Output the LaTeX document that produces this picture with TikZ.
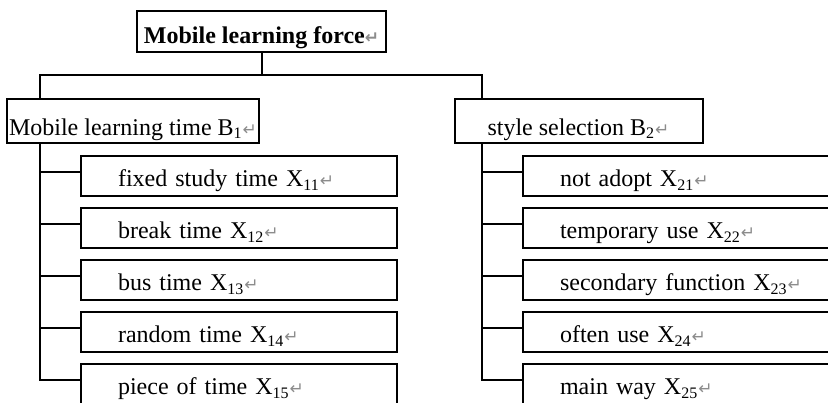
\documentclass[tikz,border=0pt]{standalone}
\usepackage{fontspec}
\setmainfont{Liberation Serif}
\newfontfamily\markfont{DejaVu Sans}
\usetikzlibrary{positioning}
\definecolor{MarkGray}{RGB}{140, 140, 140}
\newcommand{\parmark}{{\markfont\fontsize{8.5}{8.5}\selectfont\textcolor{MarkGray}{↵}}}

\begin{document}
\begin{tikzpicture}[
    font=\fontsize{12}{14}\selectfont,
    node distance=6pt,
    goal/.style={rectangle, draw, line width=1pt, outer sep=0pt, minimum width=124.5pt, minimum height=20.5pt, text height=12pt, text depth=0.5pt, inner sep=1pt, font=\fontsize{12}{14}\selectfont\bfseries},
    factor/.style={rectangle, draw, line width=1pt, outer sep=0pt, minimum width=124pt, minimum height=22pt, text height=14.5pt, text depth=0.5pt, inner sep=1pt},
    item/.style={rectangle, draw, line width=1pt, outer sep=0pt, minimum height=20pt, text width=121pt, inner xsep=18.5pt, inner ysep=1pt, text height=11.2pt, text depth=0.5pt, align=left},
    link/.style={line width=1pt}
  ]
    \clip (0,0) rectangle (414pt,-201pt);
    \node[goal] (goal) at (130.75pt,-15.75pt) {Mobile learning force\parmark};
    \node[factor] (B1) at (66.5pt,-60.5pt) {Mobile learning time B\textsubscript{1}\parmark};
    \node[factor] (B2) at (289.25pt,-60.5pt) {style selection B\textsubscript{2}\parmark};

    % time items
    \node[item, below right=6.5pt and 37pt of B1.south west] (x11) {fixed study time X\textsubscript{11}\parmark};
    \node[item, below=of x11] (x12) {break time X\textsubscript{12}\parmark};
    \node[item, below=of x12] (x13) {bus time X\textsubscript{13}\parmark};
    \node[item, below=of x13] (x14) {random time X\textsubscript{14}\parmark};
    \node[item, below=of x14] (x15) {piece of time X\textsubscript{15}\parmark};

    % style items
    \node[item, below right=6.5pt and 34.25pt of B2.south west] (x21) {not adopt X\textsubscript{21}\parmark};
    \node[item, below=of x21] (x22) {temporary use X\textsubscript{22}\parmark};
    \node[item, below=of x22] (x23) {secondary function X\textsubscript{23}\parmark};
    \node[item, below=of x23] (x24) {often use X\textsubscript{24}\parmark};
    \node[item, below=of x24] (x25) {main way X\textsubscript{25}\parmark};

    \coordinate (trunkA) at ([xshift=16.5pt]B1.north west);
    \coordinate (trunkB) at ([xshift=13.5pt]B2.north west);
    \draw[link] (goal.south) -- ++(0,-11.5pt) coordinate (hub);
    \draw[link] (trunkA) |- (hub) -| (trunkB);

    \foreach \i in {1,...,5} {
      \coordinate (a\i) at ([yshift=2pt]x1\i.west);
      \coordinate (b\i) at ([yshift=2pt]x2\i.west);
    }
    \draw[link] (B1.south -| trunkA) |- (a5);
    \draw[link] (B2.south -| trunkB) |- (b5);
    \foreach \i in {1,...,4} {
      \draw[link] (a\i) -- (a\i -| trunkA);
      \draw[link] (b\i) -- (b\i -| trunkB);
    }
  \end{tikzpicture}
\end{document}
